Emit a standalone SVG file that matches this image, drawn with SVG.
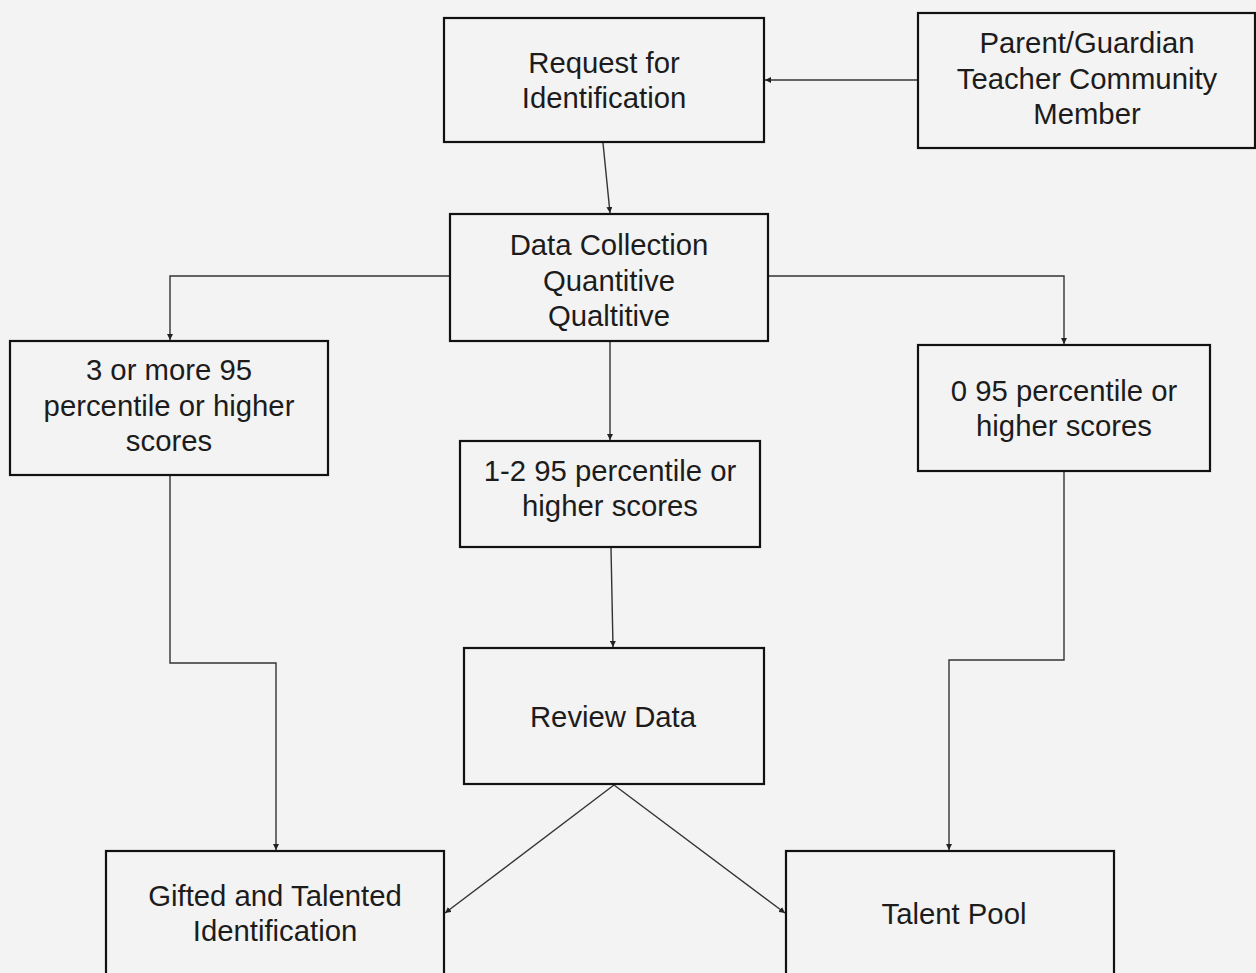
<svg xmlns="http://www.w3.org/2000/svg" width="1256" height="973" viewBox="0 0 1256 973">
<style>
.box{fill:none;stroke:#111;stroke-width:2.2}
.t{font-family:"Liberation Sans",Arial,sans-serif;font-size:29.3px;fill:#1c1c1c;text-anchor:middle}
.c{fill:none;stroke:#333;stroke-width:1.4}
</style>
<defs>
<marker id="ah" viewBox="0 0 10 10" refX="10" refY="5" markerWidth="6" markerHeight="6" markerUnits="userSpaceOnUse" orient="auto">
<path d="M0,0 L10,5 L0,10 z" fill="#222"/>
</marker>
</defs>
<rect width="1256" height="973" fill="#f3f3f3"/>
<g id="connectors">
<line class="c" x1="918" y1="80" x2="765" y2="80" marker-end="url(#ah)"/>
<line class="c" x1="603" y1="143" x2="610" y2="213" marker-end="url(#ah)"/>
<polyline class="c" points="450,276 170,276 170,340" marker-end="url(#ah)"/>
<polyline class="c" points="768,276 1064,276 1064,344" marker-end="url(#ah)"/>
<line class="c" x1="610" y1="342" x2="610" y2="440" marker-end="url(#ah)"/>
<line class="c" x1="611" y1="548" x2="613" y2="647" marker-end="url(#ah)"/>
<polyline class="c" points="170,476 170,663 276,663 276,850" marker-end="url(#ah)"/>
<polyline class="c" points="1064,472 1064,660 949,660 949,850" marker-end="url(#ah)"/>
<line class="c" x1="614" y1="785" x2="445" y2="913" marker-end="url(#ah)"/>
<line class="c" x1="614" y1="785" x2="785" y2="913" marker-end="url(#ah)"/>
</g>
<g id="request">
<rect class="box" x="444" y="18" width="320" height="124"/>
<text class="t" x="604" y="73">Request for</text>
<text class="t" x="604" y="108">Identification</text>
</g>
<g id="parent">
<rect class="box" x="918" y="13" width="337" height="135"/>
<text class="t" x="1087" y="53">Parent/Guardian</text>
<text class="t" x="1087" y="89">Teacher Community</text>
<text class="t" x="1087" y="124">Member</text>
</g>
<g id="data">
<rect class="box" x="450" y="214" width="318" height="127"/>
<text class="t" x="609" y="255">Data Collection</text>
<text class="t" x="609" y="291">Quantitive</text>
<text class="t" x="609" y="326">Qualtitive</text>
</g>
<g id="three">
<rect class="box" x="10" y="341" width="318" height="134"/>
<text class="t" x="169" y="380">3 or more 95</text>
<text class="t" x="169" y="416">percentile or higher</text>
<text class="t" x="169" y="451">scores</text>
</g>
<g id="onetwo">
<rect class="box" x="460" y="441" width="300" height="106"/>
<text class="t" x="610" y="481">1-2 95 percentile or</text>
<text class="t" x="610" y="516">higher scores</text>
</g>
<g id="zero">
<rect class="box" x="918" y="345" width="292" height="126"/>
<text class="t" x="1064" y="401">0 95 percentile or</text>
<text class="t" x="1064" y="436">higher scores</text>
</g>
<g id="review">
<rect class="box" x="464" y="648" width="300" height="136"/>
<text class="t" x="613" y="727">Review Data</text>
</g>
<g id="gifted">
<rect class="box" x="106" y="851" width="338" height="140"/>
<text class="t" x="275" y="906">Gifted and Talented</text>
<text class="t" x="275" y="941">Identification</text>
</g>
<g id="talent">
<rect class="box" x="786" y="851" width="328" height="140"/>
<text class="t" x="954" y="924">Talent Pool</text>
</g>
</svg>
